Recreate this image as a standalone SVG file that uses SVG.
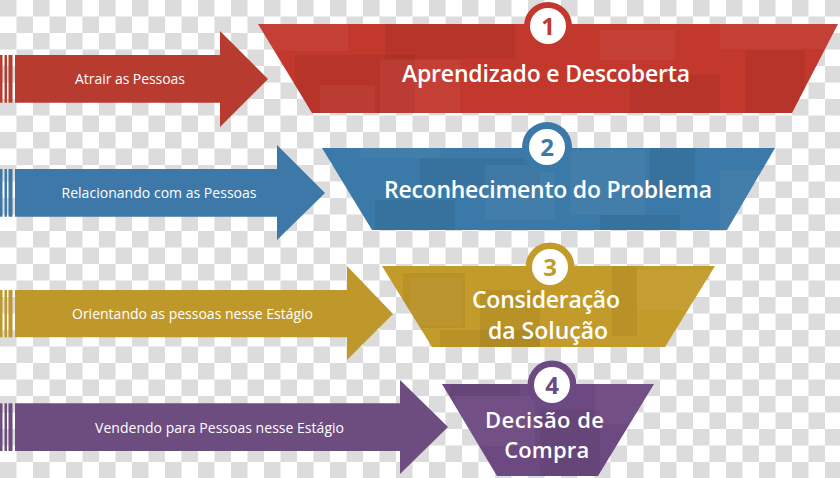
<svg xmlns="http://www.w3.org/2000/svg" width="840" height="478" viewBox="0 0 840 478">
  <defs>
    <pattern id="checker" x="0" y="0" width="33" height="33" patternUnits="userSpaceOnUse">
      <rect x="0" y="0" width="33" height="33" fill="#ffffff"/>
      <rect x="0" y="0" width="16.5" height="16.5" fill="#dcdcdc"/>
      <rect x="16.5" y="16.5" width="16.5" height="16.5" fill="#dcdcdc"/>
    </pattern>
    <clipPath id="clip1"><polygon points="258,24 838,24 792,113 312,113"/></clipPath>
    <clipPath id="clip2"><polygon points="322,148 775,148 727,230 372,230"/></clipPath>
    <clipPath id="clip3"><polygon points="382,266 715,266 665,347 432,347"/></clipPath>
    <clipPath id="clip4"><polygon points="442,384 654,384 598,476 497,476"/></clipPath>
  </defs>
  <style>
    .arrowText { font-family: "Open Sans", "Liberation Sans", sans-serif; font-size: 14px; fill: #ffffff; text-anchor: middle; }
    .title { font-family: "Open Sans", "Liberation Sans", sans-serif; font-size: 23px; font-weight: 600; fill: #ffffff; text-anchor: middle; }
    .title4 { font-family: "Open Sans", "Liberation Sans", sans-serif; font-size: 22px; font-weight: 600; fill: #ffffff; text-anchor: middle; }
    .num { font-family: "Open Sans", "Liberation Sans", sans-serif; font-size: 24px; font-weight: 700; text-anchor: middle; }
    .hi { fill: #ffffff; opacity: 0.045; }
    .lo { fill: #000000; opacity: 0.055; }
    .red { fill: #b83b30; }
    .redT { fill: #c2382d; }
    .blue { fill: #3d78a8; }
    .blueT { fill: #3b79a8; }
    .gold { fill: #bf982c; }
    .goldT { fill: #c39b2a; }
    .purple { fill: #6d4c80; }
    .purpleT { fill: #6c4981; }
  </style>

  <rect x="0" y="0" width="840" height="478" fill="url(#checker)"/>

  <g id="connectors">
    <g id="arrow1">
      <rect class="red" x="0" y="55" width="2.5" height="47.7"/>
      <rect class="red" x="4.5" y="55" width="2.5" height="47.7"/>
      <rect class="red" x="8.5" y="55" width="4" height="47.7"/>
      <polygon class="red" points="15,55 220,55 220,31 268,79 220,127 220,102.7 15,102.7"/>
      <text class="arrowText" x="130" y="84" textLength="110">Atrair as Pessoas</text>
    </g>
    <g id="arrow2">
      <rect class="blue" x="0" y="169" width="2.5" height="47.7"/>
      <rect class="blue" x="4.5" y="169" width="2.5" height="47.7"/>
      <rect class="blue" x="8.5" y="169" width="4" height="47.7"/>
      <polygon class="blue" points="15,169 277,169 277,145 325,193 277,240 277,216.7 15,216.7"/>
      <text class="arrowText" x="159" y="198" textLength="195">Relacionando com as Pessoas</text>
    </g>
    <g id="arrow3">
      <rect class="gold" x="0" y="290" width="2.5" height="47.3"/>
      <rect class="gold" x="4.5" y="290" width="2.5" height="47.3"/>
      <rect class="gold" x="8.5" y="290" width="4" height="47.3"/>
      <polygon class="gold" points="15,290 347,290 347,266 393,314 347,360 347,337.3 15,337.3"/>
      <text class="arrowText" x="192.5" y="319" textLength="241">Orientando as pessoas nesse Estágio</text>
    </g>
    <g id="arrow4">
      <rect class="purple" x="0" y="403.3" width="2.5" height="47.7"/>
      <rect class="purple" x="4.5" y="403.3" width="2.5" height="47.7"/>
      <rect class="purple" x="8.5" y="403.3" width="4" height="47.7"/>
      <polygon class="purple" points="15,403.3 400,403.3 400,380 448,427 400,474 400,451 15,451"/>
      <text class="arrowText" x="219.5" y="433" textLength="249">Vendendo para Pessoas nesse Estágio</text>
    </g>
  </g>

  <g id="stage1">
    <polygon class="redT" points="258,24 838,24 792,113 312,113"/>
    <g clip-path="url(#clip1)">
      <rect class="hi" x="258" y="24" width="90" height="27"/>
      <rect class="lo" x="295" y="55" width="120" height="58"/>
      <rect class="hi" x="320" y="85" width="55" height="28"/>
      <rect class="hi" x="380" y="60" width="80" height="53"/>
      <rect class="lo" x="385" y="24" width="130" height="35"/>
      <rect class="hi" x="600" y="30" width="75" height="30"/>
      <rect class="lo" x="630" y="75" width="90" height="38"/>
      <rect class="hi" x="720" y="24" width="118" height="25"/>
      <rect class="lo" x="745" y="50" width="60" height="63"/>
    </g>
    <circle class="redT" cx="548" cy="26" r="24"/>
    <circle cx="548" cy="26" r="18" fill="#ffffff"/>
    <text class="num" x="548" y="34.5" fill="#c2382d">1</text>
    <text class="title" x="546" y="82" textLength="288">Aprendizado e Descoberta</text>
  </g>

  <g id="stage2">
    <polygon class="blueT" points="322,148 775,148 727,230 372,230"/>
    <g clip-path="url(#clip2)">
      <rect class="hi" x="360" y="148" width="80" height="10"/>
      <rect class="lo" x="420" y="158" width="120" height="30"/>
      <rect class="hi" x="485" y="165" width="70" height="55"/>
      <rect class="lo" x="375" y="200" width="80" height="30"/>
      <rect class="hi" x="570" y="150" width="75" height="65"/>
      <rect class="lo" x="650" y="148" width="45" height="45"/>
      <rect class="hi" x="720" y="170" width="60" height="60"/>
      <rect class="lo" x="600" y="215" width="80" height="15"/>
    </g>
    <circle class="blueT" cx="547" cy="147" r="25"/>
    <circle cx="547" cy="147" r="18" fill="#ffffff"/>
    <text class="num" x="547" y="155.5" fill="#3b79a8">2</text>
    <text class="title" x="548" y="198" textLength="328">Reconhecimento do Problema</text>
  </g>

  <g id="stage3">
    <polygon class="goldT" points="382,266 715,266 665,347 432,347"/>
    <g clip-path="url(#clip3)">
      <rect class="lo" x="403" y="273" width="62" height="55"/>
      <rect class="hi" x="410" y="278" width="52" height="47"/>
      <rect class="lo" x="480" y="290" width="60" height="57"/>
      <rect class="lo" x="612" y="266" width="25" height="70"/>
      <rect class="hi" x="637" y="270" width="78" height="40"/>
      <rect class="lo" x="440" y="330" width="100" height="17"/>
    </g>
    <circle class="goldT" cx="550" cy="267" r="24.5"/>
    <circle cx="550" cy="267" r="18" fill="#ffffff"/>
    <text class="num" x="550" y="275.5" fill="#c39b2a">3</text>
    <text class="title" x="546" y="308" textLength="148">Consideração</text>
    <text class="title" x="548" y="339" textLength="120">da Solução</text>
  </g>

  <g id="stage4">
    <polygon class="purpleT" points="442,384 654,384 598,476 497,476"/>
    <g clip-path="url(#clip4)">
      <rect class="lo" x="450" y="384" width="70" height="12"/>
      <rect class="hi" x="455" y="396" width="80" height="50"/>
      <rect class="lo" x="540" y="410" width="60" height="66"/>
      <rect class="hi" x="595" y="384" width="60" height="40"/>
    </g>
    <circle class="purpleT" cx="552" cy="385" r="24.5"/>
    <circle cx="552" cy="385" r="18" fill="#ffffff"/>
    <text class="num" x="552" y="393.5" fill="#6c4981">4</text>
    <text class="title4" x="544.5" y="427.5" textLength="119">Decisão de</text>
    <text class="title4" x="546.7" y="457.5" textLength="85">Compra</text>
  </g>
</svg>
